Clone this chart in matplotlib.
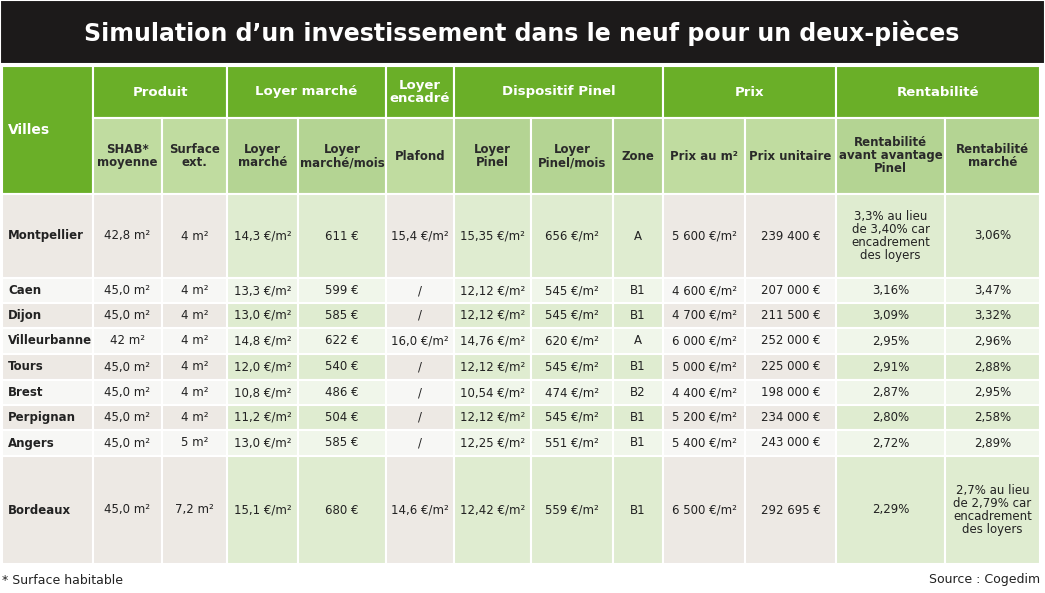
import matplotlib
matplotlib.use('Agg')
import matplotlib.pyplot as plt
from matplotlib.patches import Rectangle

plt.rcParams['font.family'] = ['DejaVu Sans Condensed', 'Liberation Sans Narrow', 'DejaVu Sans']

# ── Data ─────────────────────────────────────────────────────────────────────
title = "Simulation d’un investissement dans le neuf pour un deux-pièces"
groups = ["Produit", "Loyer marché", "Loyer\nencadré", "Dispositif Pinel", "Prix", "Rentabilité"]
group_span = [2, 2, 1, 3, 2, 2]
subheaders = ["SHAB*\nmoyenne", "Surface\next.", "Loyer\nmarché", "Loyer\nmarché/mois", "Plafond",
              "Loyer\nPinel", "Loyer\nPinel/mois", "Zone", "Prix au m²", "Prix unitaire",
              "Rentabilité\navant avantage\nPinel", "Rentabilité\nmarché"]
villes = ["Montpellier", "Caen", "Dijon", "Villeurbanne", "Tours", "Brest", "Perpignan", "Angers", "Bordeaux"]
shab = ["42,8 m²", "45,0 m²", "45,0 m²", "42 m²", "45,0 m²", "45,0 m²", "45,0 m²", "45,0 m²", "45,0 m²"]
surf_ext = ["4 m²", "4 m²", "4 m²", "4 m²", "4 m²", "4 m²", "4 m²", "5 m²", "7,2 m²"]
loyer_m2 = ["14,3 €/m²", "13,3 €/m²", "13,0 €/m²", "14,8 €/m²", "12,0 €/m²", "10,8 €/m²", "11,2 €/m²", "13,0 €/m²", "15,1 €/m²"]
loyer_mois = ["611 €", "599 €", "585 €", "622 €", "540 €", "486 €", "504 €", "585 €", "680 €"]
plafond = ["15,4 €/m²", "/", "/", "16,0 €/m²", "/", "/", "/", "/", "14,6 €/m²"]
pinel_m2 = ["15,35 €/m²", "12,12 €/m²", "12,12 €/m²", "14,76 €/m²", "12,12 €/m²", "10,54 €/m²", "12,12 €/m²", "12,25 €/m²", "12,42 €/m²"]
pinel_mois = ["656 €/m²", "545 €/m²", "545 €/m²", "620 €/m²", "545 €/m²", "474 €/m²", "545 €/m²", "551 €/m²", "559 €/m²"]
zone = ["A", "B1", "B1", "A", "B1", "B2", "B1", "B1", "B1"]
prix_m2 = ["5 600 €/m²", "4 600 €/m²", "4 700 €/m²", "6 000 €/m²", "5 000 €/m²", "4 400 €/m²", "5 200 €/m²", "5 400 €/m²", "6 500 €/m²"]
prix_unit = ["239 400 €", "207 000 €", "211 500 €", "252 000 €", "225 000 €", "198 000 €", "234 000 €", "243 000 €", "292 695 €"]
rent_avant = ["3,3% au lieu\nde 3,40% car\nencadrement\ndes loyers", "3,16%", "3,09%", "2,95%", "2,91%", "2,87%", "2,80%", "2,72%", "2,29%"]
rent_marche = ["3,06%", "3,47%", "3,32%", "2,96%", "2,88%", "2,95%", "2,58%", "2,89%", "2,7% au lieu\nde 2,79% car\nencadrement\ndes loyers"]
columns = [shab, surf_ext, loyer_m2, loyer_mois, plafond, pinel_m2, pinel_mois, zone,
           prix_m2, prix_unit, rent_avant, rent_marche]

# ── Layout (pixels) ──────────────────────────────────────────────────────────
xs = [2, 93, 162, 227, 298, 386, 454, 531, 613, 663, 745, 836, 945, 1040]
row_y = [194, 278, 303, 328, 354, 380, 405, 430, 456, 564]
H1, H2, H3 = 66, 118, 194
GREEN = '#6aaf28'
SUB = ['#c0dca0', '#b4d493']   # light / darker subheader
ODD = ['#ede9e4', '#dfecd0']
EVEN = ['#f7f7f5', '#f0f6ea']

fig = plt.figure(figsize=(10.45, 5.93), dpi=100)
ax = fig.add_axes([0, 0, 1, 1])
ax.set_xlim(0, 1045)
ax.set_ylim(593, 0)
ax.axis('off')

def cell(x0, y0, x1, y1, fc):
    ax.add_patch(Rectangle((x0, y0), x1 - x0, y1 - y0, fc=fc, ec='white', lw=1.5))

# title bar
cell(0, 0, 1045, 64, '#1c1a1a')
ax.text(522, 33, title, color='white', fontsize=17, fontweight='bold', ha='center', va='center')

# Villes header
cell(xs[0], H1, xs[1], H3, GREEN)
ax.text(xs[0] + 6, 130, "Villes", color='white', fontsize=10, fontweight='bold', va='center')

# group headers and column styles
col_style = []
c = 1
for g, (name, span) in enumerate(zip(groups, group_span)):
    cell(xs[c], H1, xs[c + span], H2, GREEN)
    ax.text((xs[c] + xs[c + span]) / 2, (H1 + H2) / 2, name, color='white', fontsize=9.5,
            fontweight='bold', ha='center', va='center', linespacing=0.95)
    col_style += [g % 2] * span
    c += span

for j, lab in enumerate(subheaders):
    k = col_style[j]
    cell(xs[j + 1], H2, xs[j + 2], H3, SUB[k])
    ax.text((xs[j + 1] + xs[j + 2]) / 2, (H2 + H3) / 2, lab, color='#2a2a2a', fontsize=8.5,
            fontweight='bold', ha='center', va='center', linespacing=1.0)

for i, v in enumerate(villes):
    y0, y1 = row_y[i], row_y[i + 1]
    ym = (y0 + y1) / 2
    cell(xs[0], y0, xs[1], y1, ODD[0] if i % 2 == 0 else EVEN[0])
    ax.text(xs[0] + 6, ym, v, color='#222222', fontsize=8.5, fontweight='bold', va='center')
    for j, col in enumerate(columns):
        k = col_style[j]
        cell(xs[j + 1], y0, xs[j + 2], y1, ODD[k] if i % 2 == 0 else EVEN[k])
        ax.text((xs[j + 1] + xs[j + 2]) / 2, ym, col[i], color='#222222', fontsize=8.5,
                ha='center', va='center', linespacing=1.0)

ax.text(2, 580, "* Surface habitable", fontsize=9, color='#222222', va='center')
ax.text(1040, 580, "Source : Cogedim", fontsize=9, color='#222222', va='center', ha='right')

fig.savefig('out.png', dpi=100)
